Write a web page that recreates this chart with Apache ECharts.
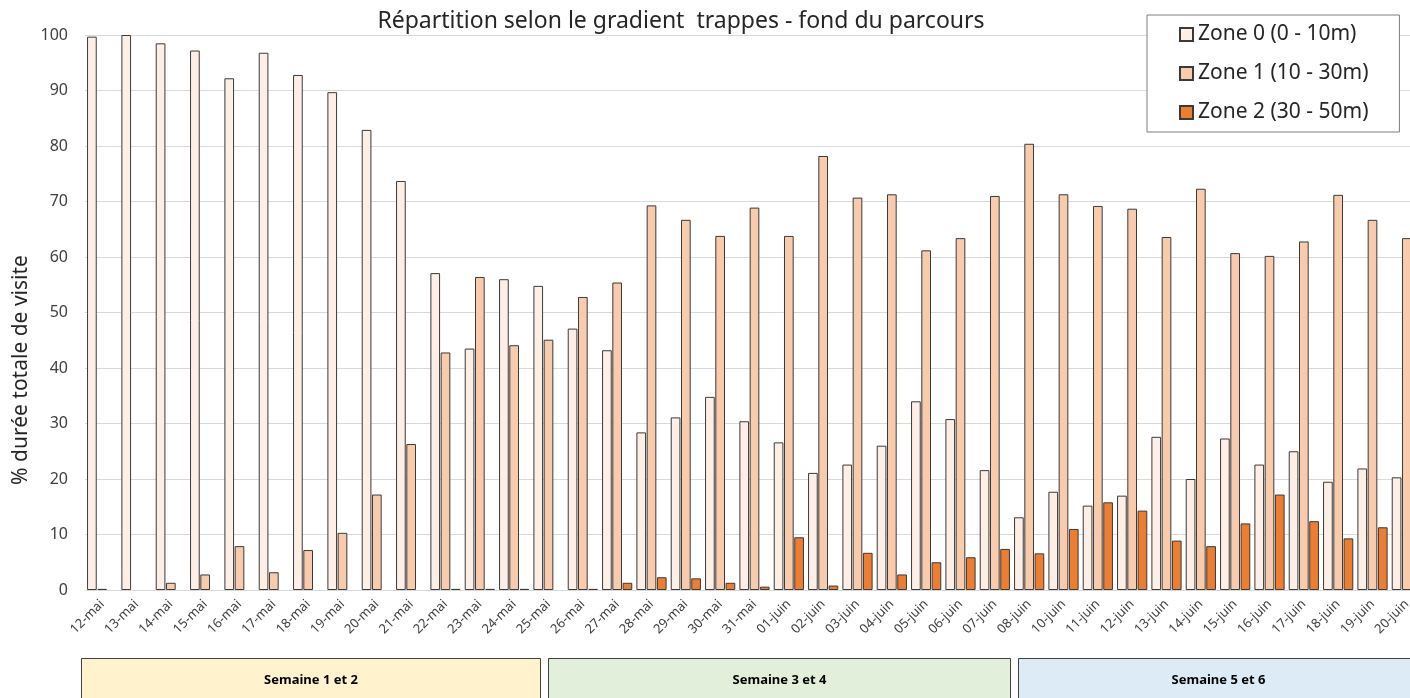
<!DOCTYPE html>
<html>
<head>
<meta charset="utf-8">
<script src="https://cdn.jsdelivr.net/npm/echarts@6/dist/echarts.min.js"></script>
<style>
  html, body { margin: 0; padding: 0; background: #fff; overflow: hidden; }
  #chart { width: 1410px; height: 698px; }
</style>
</head>
<body>
<div id="chart"></div>
<script>
const days = [
  '12-mai', '13-mai', '14-mai', '15-mai', '16-mai', '17-mai', '18-mai', '19-mai', '20-mai', '21-mai',
  '22-mai', '23-mai', '24-mai', '25-mai', '26-mai', '27-mai', '28-mai', '29-mai', '30-mai', '31-mai',
  '01-juin', '02-juin', '03-juin', '04-juin', '05-juin', '06-juin', '07-juin', '08-juin',
  '10-juin', '11-juin', '12-juin', '13-juin', '14-juin', '15-juin', '16-juin', '17-juin', '18-juin', '19-juin', '20-juin'
]

const zone0 = [
  99.7, 100, 98.5, 97.2, 92.2, 96.8, 92.8, 89.7, 82.9, 73.7,
  57.1, 43.5, 56.0, 54.8, 47.1, 43.2, 28.4, 31.1, 34.8, 30.4,
  26.6, 21.1, 22.6, 26.0, 34.0, 30.8, 21.6, 13.1,
  17.7, 15.2, 17.0, 27.6, 20.0, 27.3, 22.6, 25.0, 19.5, 21.9, 20.3
]

const zone1 = [
  0.2, 0, 1.3, 2.8, 7.9, 3.2, 7.2, 10.3, 17.2, 26.3,
  42.8, 56.4, 44.1, 45.1, 52.8, 55.4, 69.3, 66.7, 63.8, 68.9,
  63.8, 78.2, 70.7, 71.3, 61.2, 63.4, 71.0, 80.4,
  71.3, 69.2, 68.7, 63.6, 72.3, 60.7, 60.2, 62.8, 71.2, 66.7, 63.4
]

const zone2 = [
  0, 0, 0, 0, 0, 0, 0, 0, 0, 0,
  0.2, 0.2, 0.2, 0, 0.2, 1.3, 2.3, 2.1, 1.3, 0.6,
  9.5, 0.8, 6.7, 2.8, 5.0, 5.9, 7.4, 6.6,
  11.0, 15.8, 14.3, 8.9, 7.9, 12.0, 17.2, 12.4, 9.3, 11.3, 10.0
]

const seriesNames = ['Zone 0 (0 - 10m)', 'Zone 1 (10 - 30m)', 'Zone 2 (30 - 50m)']
const weekLabels = ['Semaine 1 et 2', 'Semaine 3 et 4', 'Semaine 5 et 6']

const FONT = 'Noto Sans'
const colors = ['#FDEFE6', '#F8CBAD', '#ED7D31']
const weekColors = ['#FFF2CC', '#E2EFDA', '#DDEBF7']
// cell boxes under the chart (x start, width)
const weekBoxes = [[81, 459], [548, 462], [1018, 400]]

const myChart = echarts.init(document.getElementById('chart'))

// excel draws nothing for a zero value
const makeSeries = (name, data, i) => ({
  name,
  type: 'bar',
  data: data.map((v) => (v === 0 ? null : v)),
  barGap: '6%',
  barCategoryGap: '12%',
  itemStyle: {
    color: colors[i],
    borderColor: '#3a3a3a',
    borderWidth: 1
  }
})

myChart.setOption({
  animation: false,
  textStyle: { fontFamily: FONT },
  title: {
    text: 'Répartition selon le gradient  trappes - fond du parcours',
    left: 676,
    textAlign: 'center',
    top: 5,
    textStyle: { fontFamily: FONT, fontSize: 23, fontWeight: 'normal', color: '#262626' }
  },
  legend: {
    data: seriesNames,
    orient: 'vertical',
    left: 1147,
    top: 15,
    padding: [9, 31, 9, 32],
    itemGap: 18,
    itemWidth: 13,
    itemHeight: 13,
    icon: 'rect',
    backgroundColor: '#fff',
    borderColor: '#7f7f7f',
    borderWidth: 1,
    borderRadius: 0,
    textStyle: { fontFamily: FONT, fontSize: 21, color: '#262626' }
  },
  grid: {
    left: 85,
    width: 1339,
    top: 35,
    bottom: 108,
    outerBoundsMode: 'none'
  },
  xAxis: {
    type: 'category',
    data: days,
    axisLine: { lineStyle: { color: '#d9d9d9' } },
    axisTick: { show: false },
    axisLabel: {
      interval: 0,
      rotate: 45,
      fontSize: 13,
      color: '#404040',
      fontFamily: FONT,
      margin: 12
    }
  },
  yAxis: {
    type: 'value',
    min: 0,
    max: 100,
    interval: 10,
    axisLine: { show: false },
    axisTick: { show: false },
    axisLabel: { fontSize: 16, color: '#404040', fontFamily: FONT, margin: 17 },
    splitLine: { lineStyle: { color: '#d9d9d9' } }
  },
  series: [
    makeSeries(seriesNames[0], zone0, 0),
    makeSeries(seriesNames[1], zone1, 1),
    makeSeries(seriesNames[2], zone2, 2)
  ],
  graphic: [
    {
      type: 'text',
      x: 21,
      y: 370,
      rotation: Math.PI / 2,
      style: {
        text: '% durée totale de visite',
        fontFamily: FONT,
        fontSize: 21,
        fill: '#262626',
        align: 'center',
        verticalAlign: 'middle'
      }
    },
    ...weekLabels.map((label, i) => ({
      type: 'group',
      left: weekBoxes[i][0],
      top: 658,
      children: [
        {
          type: 'rect',
          shape: { x: 0, y: 0, width: weekBoxes[i][1], height: 60 },
          style: { fill: weekColors[i], stroke: '#404040', lineWidth: 1 }
        },
        {
          type: 'text',
          x: weekBoxes[i][1] / 2,
          y: 22,
          style: {
            text: label,
            fontFamily: FONT,
            fontSize: 13,
            fontWeight: 'bold',
            fill: '#000',
            align: 'center',
            verticalAlign: 'middle'
          }
        }
      ]
    }))
  ]
})
</script>
</body>
</html>
